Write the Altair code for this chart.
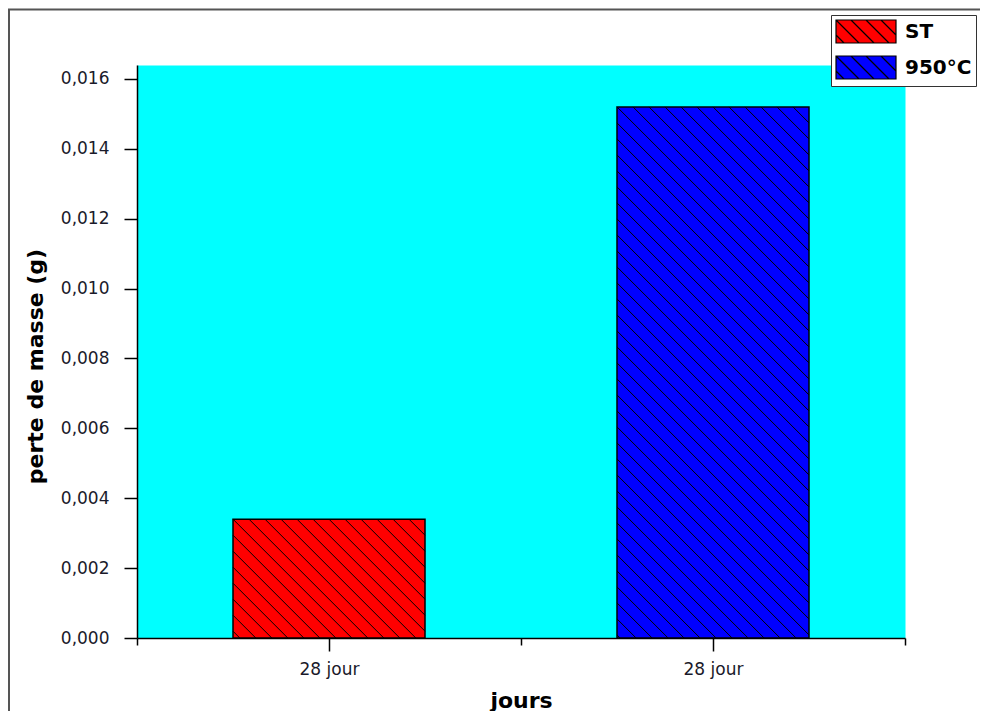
import json
import math
import altair as alt
import pandas as pd

# ---------------- data ----------------
categories = ["28 jour", "28 jour"]
series = ["ST", "950°C"]
values = [0.0034, 0.0152]
colors = ["#FF0000", "#0000FF"]
y_max = 0.0164
y_step = 0.001
y_count = 17

# ---------------- layout / style ----------------
W, H = 768, 573
bar_half = 0.25
hatch_gap = 16

positions = [i + 0.5 for i in range(len(categories))]
bars = pd.DataFrame({"series": series, "value": values, "pos": positions,
                     "category": categories})

px_x = W / len(categories)
px_y = H / y_max

rows = []
for s, v, p in zip(series, values, positions):
    w = 2 * bar_half * px_x
    h = v * px_y
    left = p - bar_half
    k0 = math.ceil(-h / hatch_gap)
    k1 = math.floor(w / hatch_gap)
    for k in range(k0, k1 + 1):
        c = k * hatch_gap
        u0, v0 = (c, 0.0) if c >= 0 else (0.0, -c)
        ve = min(h, w - c)
        ue = c + ve
        if ve - v0 < 1:
            continue
        rows.append({"series": s,
                     "hx": left + u0 / px_x, "hx2": left + ue / px_x,
                     "hy": v - v0 / px_y, "hy2": v - ve / px_y})
hatch = pd.DataFrame(rows)

# legend swatch: hatched rectangle path (unit = sqrt(size)/2 px)
sym_size = 529
unit = math.sqrt(sym_size) / 2
xl, xr = -1.0, -1.0 + 60 / unit
yt, yb = -1.0, 1.0
gap_u = 15 / unit
parts = [f"M{xl:.3f},{yt:.3f}H{xr:.3f}V{yb:.3f}H{xl:.3f}Z"]
k = math.ceil((xl - 1 + 0.05) / gap_u)
while True:
    d = k * gap_u
    if d >= xr + 1 - 0.05:
        break
    sx, sy = d - 1, yt
    if sx < xl:
        sx, sy = xl, xl - d
    ex, ey = d + 1, yb
    if ex > xr:
        ex, ey = xr, xr - d
    parts.append(f"M{sx:.3f},{sy:.3f}L{ex:.3f},{ey:.3f}")
    k += 1
swatch_path = "".join(parts)

y_ticks = [round(i * y_step, 4) for i in range(y_count)]
x_ticks = [i * 0.5 for i in range(2 * len(categories) + 1)]
cat_js = json.dumps(categories)

x_axis = alt.Axis(
    values=x_ticks,
    labelExpr=f"datum.value % 1 != 0 ? {cat_js}[floor(datum.value)] : ''",
    tickSize={"condition": {"test": "datum.value % 1 != 0", "value": 13}, "value": 7},
    tickColor="black", tickWidth=1.5, domainColor="black", domainWidth=1.5,
    labelFont="DejaVu Sans", labelFontSize=17, labelColor="#1a1a2a",
    labelPadding=10, labelFlush=False, labelOverlap=False, grid=False,
    title="jours", titleFont="DejaVu Sans", titleFontWeight="bold",
    titleFontSize=22, titleColor="black", titleY=69, titleBaseline="alphabetic",
)
y_axis = alt.Axis(
    values=y_ticks,
    labelExpr="round(datum.value*1000) % 2 == 0 ? replace(format(datum.value, '.3f'), '.', ',') : ''",
    tickSize={"condition": {"test": "round(datum.value*1000) % 2 == 0", "value": 13}, "value": 7},
    tickColor="black", tickWidth=1.5, domainColor="black", domainWidth=1.5,
    labelFont="DejaVu Sans", labelFontSize=17, labelColor="#1a1a2a",
    labelPadding=15, labelOverlap=False, labelFlush=False, grid=False,
    title="perte de masse (g)", titleFont="DejaVu Sans", titleFontWeight="bold",
    titleFontSize=22, titleColor="black", titleX=-95, titleY=301,
    titleBaseline="alphabetic",
)

x_scale = alt.Scale(domain=[0, len(categories)], nice=False, zero=False)
y_scale = alt.Scale(domain=[0, y_max], nice=False)

bar_layer = alt.Chart(bars).transform_calculate(
    x0=f"datum.pos - {bar_half}", x1=f"datum.pos + {bar_half}", zero="0"
).mark_rect(stroke="black", strokeWidth=1.5).encode(
    x=alt.X("x0:Q", scale=x_scale, axis=x_axis, title="jours"),
    x2="x1:Q",
    y=alt.Y("value:Q", scale=y_scale, axis=y_axis, title="perte de masse (g)"),
    y2="zero:Q",
    color=alt.Color("series:N", scale=alt.Scale(domain=series, range=colors),
                    legend=alt.Legend(
                        title=None, orient="none", legendX=694, legendY=-50,
                        symbolType=swatch_path, symbolSize=sym_size,
                        symbolStrokeColor="black", symbolStrokeWidth=1.2,
                        symbolOpacity=1,
                        labelFont="DejaVu Sans", labelFontWeight="bold",
                        labelFontSize=20, labelColor="black", labelOffset=45,
                        rowPadding=7, padding=4, strokeColor="#333333",
                        fillColor="white")),
)

hatch_layer = alt.Chart(hatch).mark_rule(color="black", strokeWidth=1).encode(
    x=alt.X("hx:Q", title="jours"), x2="hx2:Q",
    y=alt.Y("hy:Q", title="perte de masse (g)"), y2="hy2:Q",
)

frame_src = pd.DataFrame({"f": [0]})
frame_left = alt.Chart(frame_src).mark_rule(color="#555555", strokeWidth=2).encode(
    x=alt.value(-128), y=alt.value(-55.5), y2=alt.value(H + 200))
frame_top = alt.Chart(frame_src).mark_rule(color="#555555", strokeWidth=2).encode(
    x=alt.value(-129), x2=alt.value(W + 200), y=alt.value(-55.5))

chart = alt.layer(bar_layer, hatch_layer, frame_left, frame_top).properties(
    width=W, height=H,
    padding={"left": 129, "top": 57, "right": 75, "bottom": 73},
    autosize=alt.AutoSizeParams(type="none"),
    background="white",
).configure_view(fill="#00FFFF", stroke="transparent")

chart.save("out.html", embed_options={"renderer": "svg", "actions": False})
